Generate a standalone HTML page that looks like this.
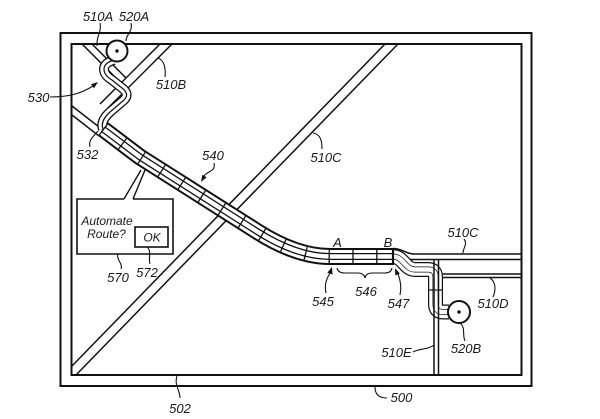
<!DOCTYPE html>
<html>
<head>
<meta charset="utf-8">
<style>
  html,body{margin:0;padding:0;background:#fff;}
  svg{display:block;}
  text{font-family:"Liberation Sans",Arial,sans-serif;font-style:italic;fill:#1a1a1a;}
</style>
</head>
<body>
<svg width="600" height="419" viewBox="0 0 600 419" xmlns="http://www.w3.org/2000/svg">
  <rect width="600" height="419" fill="#fff"/>

  <!-- frames -->
  <g fill="none" stroke="#111" stroke-width="2">
    <rect x="60.5" y="33" width="471" height="353"/>
    <rect x="71.5" y="44" width="450" height="331"/>
  </g>

  <!-- roads -->
  <g fill="none" stroke="#111" stroke-width="1.5">
    <!-- 510C diagonal -->
    <line x1="72" y1="366" x2="385" y2="44"/>
    <line x1="76" y1="375" x2="398" y2="44"/>
    <!-- 510A -->
    <line x1="82" y1="44" x2="121" y2="83"/>
    <line x1="92" y1="44" x2="126" y2="78"/>
    <!-- 510B -->
    <line x1="160" y1="44" x2="100" y2="104"/>
    <line x1="172" y1="44" x2="108" y2="108"/>
    <!-- road under 540 -->
    <line x1="72" y1="106" x2="108" y2="134"/>
    <line x1="72" y1="115" x2="99" y2="136"/>
    <!-- 510C horizontal lower line -->
    <line x1="396" y1="259.5" x2="521" y2="259.5"/>
    <!-- 510D -->
    <line x1="438" y1="274" x2="521" y2="274"/>
    <line x1="443" y1="277.5" x2="521" y2="277.5"/>
  </g>

  <!-- route 530 -->
  <g fill="none" stroke-linejoin="round">
    <path d="M 114 60 C 100 64, 102 74, 112 80 L 122 88 Q 130 94 124 100 L 110 112 Q 100 121 103 129" stroke="#111" stroke-width="10"/>
    <path d="M 114 60 C 100 64, 102 74, 112 80 L 122 88 Q 130 94 124 100 L 110 112 Q 100 121 103 129" stroke="#fff" stroke-width="7.4"/>
    <path d="M 114 60 C 100 64, 102 74, 112 80 L 122 88 Q 130 94 124 100 L 110 112 Q 100 121 103 129" stroke="#111" stroke-width="1.2"/>
  </g>

  <!-- route 547 -->
  <g fill="none" stroke-linejoin="round">
    <path d="M 393 256.5 C 403 256.5, 405 269.5, 415 269.5 L 428 269.5 Q 435.5 269.5 435.5 277 L 435.5 304 Q 435.5 312 443 312 L 449 312" stroke="#111" stroke-width="15"/>
    <path d="M 393 256.5 C 403 256.5, 405 269.5, 415 269.5 L 428 269.5 Q 435.5 269.5 435.5 277 L 435.5 304 Q 435.5 312 443 312 L 449 312" stroke="#fff" stroke-width="12.6"/>
    <path d="M 393 256.5 C 403 256.5, 405 269.5, 415 269.5 L 428 269.5 Q 435.5 269.5 435.5 277 L 435.5 304 Q 435.5 312 443 312 L 449 312" stroke="#111" stroke-width="6"/>
    <path d="M 393 256.5 C 403 256.5, 405 269.5, 415 269.5 L 428 269.5 Q 435.5 269.5 435.5 277 L 435.5 304 Q 435.5 312 443 312 L 449 312" stroke="#fff" stroke-width="4.6"/>
  </g>

  <!-- band 540 -->
  <g fill="none" stroke-linejoin="round">
    <path d="M 103 129 L 140 157 L 258 232 Q 297 256.5 330 256.5 L 393 256.5" stroke="#111" stroke-width="17"/>
    <path d="M 103 129 L 140 157 L 258 232 Q 297 256.5 330 256.5 L 393 256.5" stroke="#fff" stroke-width="13"/>
    <path d="M 103 129 L 140 157 L 258 232 Q 297 256.5 330 256.5 L 393 256.5" stroke="#111" stroke-width="7"/>
    <path d="M 103 129 L 140 157 L 258 232 Q 297 256.5 330 256.5 L 393 256.5" stroke="#fff" stroke-width="4.4"/>
    <path d="M 103 129 L 140 157 L 258 232 Q 297 256.5 330 256.5 L 393 256.5" stroke="#111" stroke-width="13.5" stroke-dasharray="1.3 22.5"/>
  </g>
  <line x1="393" y1="248" x2="393" y2="265" stroke="#111" stroke-width="2.2"/>

  <!-- 510C horizontal upper line with curve from B -->
  <path d="M 393 248.5 C 403 248.5, 405 254, 414 254 L 521 254" fill="none" stroke="#111" stroke-width="1.5"/>

  <!-- 510E -->
  <g stroke="#111" stroke-width="1.5">
    <line x1="434" y1="259.5" x2="434" y2="375"/>
    <line x1="438.5" y1="259.5" x2="438.5" y2="375"/>
    <line x1="428" y1="290" x2="443" y2="290" stroke-width="1.2"/>
  </g>

  <!-- circles -->
  <circle cx="117" cy="51" r="10.5" fill="#fff" stroke="#111" stroke-width="2"/>
  <circle cx="117" cy="51" r="1.7" fill="#111"/>
  <circle cx="459" cy="312" r="11" fill="#fff" stroke="#111" stroke-width="2"/>
  <circle cx="459" cy="312" r="1.7" fill="#111"/>

  <!-- popup 570 -->
  <polygon points="124,199 141,170 145,170 133,199" fill="#fff"/>
  <path d="M 124 199 L 77 199 L 77 254 L 173 254 L 173 199 L 133 199" fill="#fff" stroke="#111" stroke-width="1.6"/>
  <line x1="124" y1="199" x2="141" y2="170" stroke="#111" stroke-width="1.4"/>
  <line x1="133" y1="199" x2="145" y2="170" stroke="#111" stroke-width="1.4"/>
  <rect x="135" y="227" width="33" height="20" fill="#fff" stroke="#111" stroke-width="1.6"/>
  <text x="107" y="225" font-size="12" text-anchor="middle">Automate</text>
  <text x="106.5" y="238" font-size="12" text-anchor="middle">Route?</text>
  <text x="152" y="241.5" font-size="12" text-anchor="middle">OK</text>

  <!-- leaders -->
  <g fill="none" stroke="#111" stroke-width="1.1">
    <path d="M 100 23 C 102 32, 96 36, 97 46"/>
    <path d="M 131 23 C 133 32, 126 34, 126 41"/>
    <path d="M 158 58 C 164 60, 166 68, 165 77"/>
    <path d="M 50 97 C 70 97, 82 93, 93 86"/>
    <path d="M 90 147 C 88 140, 94 136, 98 131"/>
    <path d="M 214 163 C 216 172, 207 171, 204 176"/>
    <path d="M 313 133 C 320 134, 322 140, 322 149"/>
    <path d="M 118 254 C 116 260, 123 263, 121 269"/>
    <path d="M 147 247 C 152 251, 148 258, 150 264"/>
    <path d="M 464 239 C 468 244, 463 248, 463 253"/>
    <path d="M 326 293 C 324 284, 327 278, 330 273"/>
    <path d="M 337 268 Q 338 273 345 273 L 358 273 Q 364 273 365 278 Q 366 273 372 273 L 385 273 Q 391 273 392 268"/>
    <path d="M 400 295 C 402 286, 400 279, 398 274"/>
    <path d="M 490 278 C 496 282, 496 290, 493 297"/>
    <path d="M 460 323 C 466 328, 462 335, 465 341"/>
    <path d="M 413 352 C 420 348, 428 350, 434 345"/>
    <path d="M 375 387 C 375 395, 380 398, 387 398"/>
    <path d="M 177 376 C 174 385, 180 390, 180 398"/>
  </g>

  <!-- arrowheads -->
  <g fill="#111">
    <polygon points="98,82 94,88.3 91,84.3"/>
    <polygon points="201,182 206.7,177.2 202.3,174.7"/>
    <polygon points="332,267 332.5,274.5 327.3,272.8"/>
    <polygon points="395,268 399.9,273.6 395.3,275.4"/>
  </g>

  <!-- labels -->
  <g font-size="13" text-anchor="middle">
    <text x="98" y="21">510A</text>
    <text x="134" y="21">520A</text>
    <text x="171" y="89">510B</text>
    <text x="38.5" y="102">530</text>
    <text x="87.5" y="159">532</text>
    <text x="213" y="160">540</text>
    <text x="326" y="162">510C</text>
    <text x="118" y="282">570</text>
    <text x="147" y="277">572</text>
    <text x="337.5" y="247">A</text>
    <text x="388" y="247">B</text>
    <text x="463" y="237">510C</text>
    <text x="323" y="306">545</text>
    <text x="366" y="296">546</text>
    <text x="398.5" y="308">547</text>
    <text x="493" y="308">510D</text>
    <text x="466" y="353">520B</text>
    <text x="396.5" y="357">510E</text>
    <text x="401.5" y="402">500</text>
    <text x="180" y="413">502</text>
  </g>
</svg>
</body>
</html>
